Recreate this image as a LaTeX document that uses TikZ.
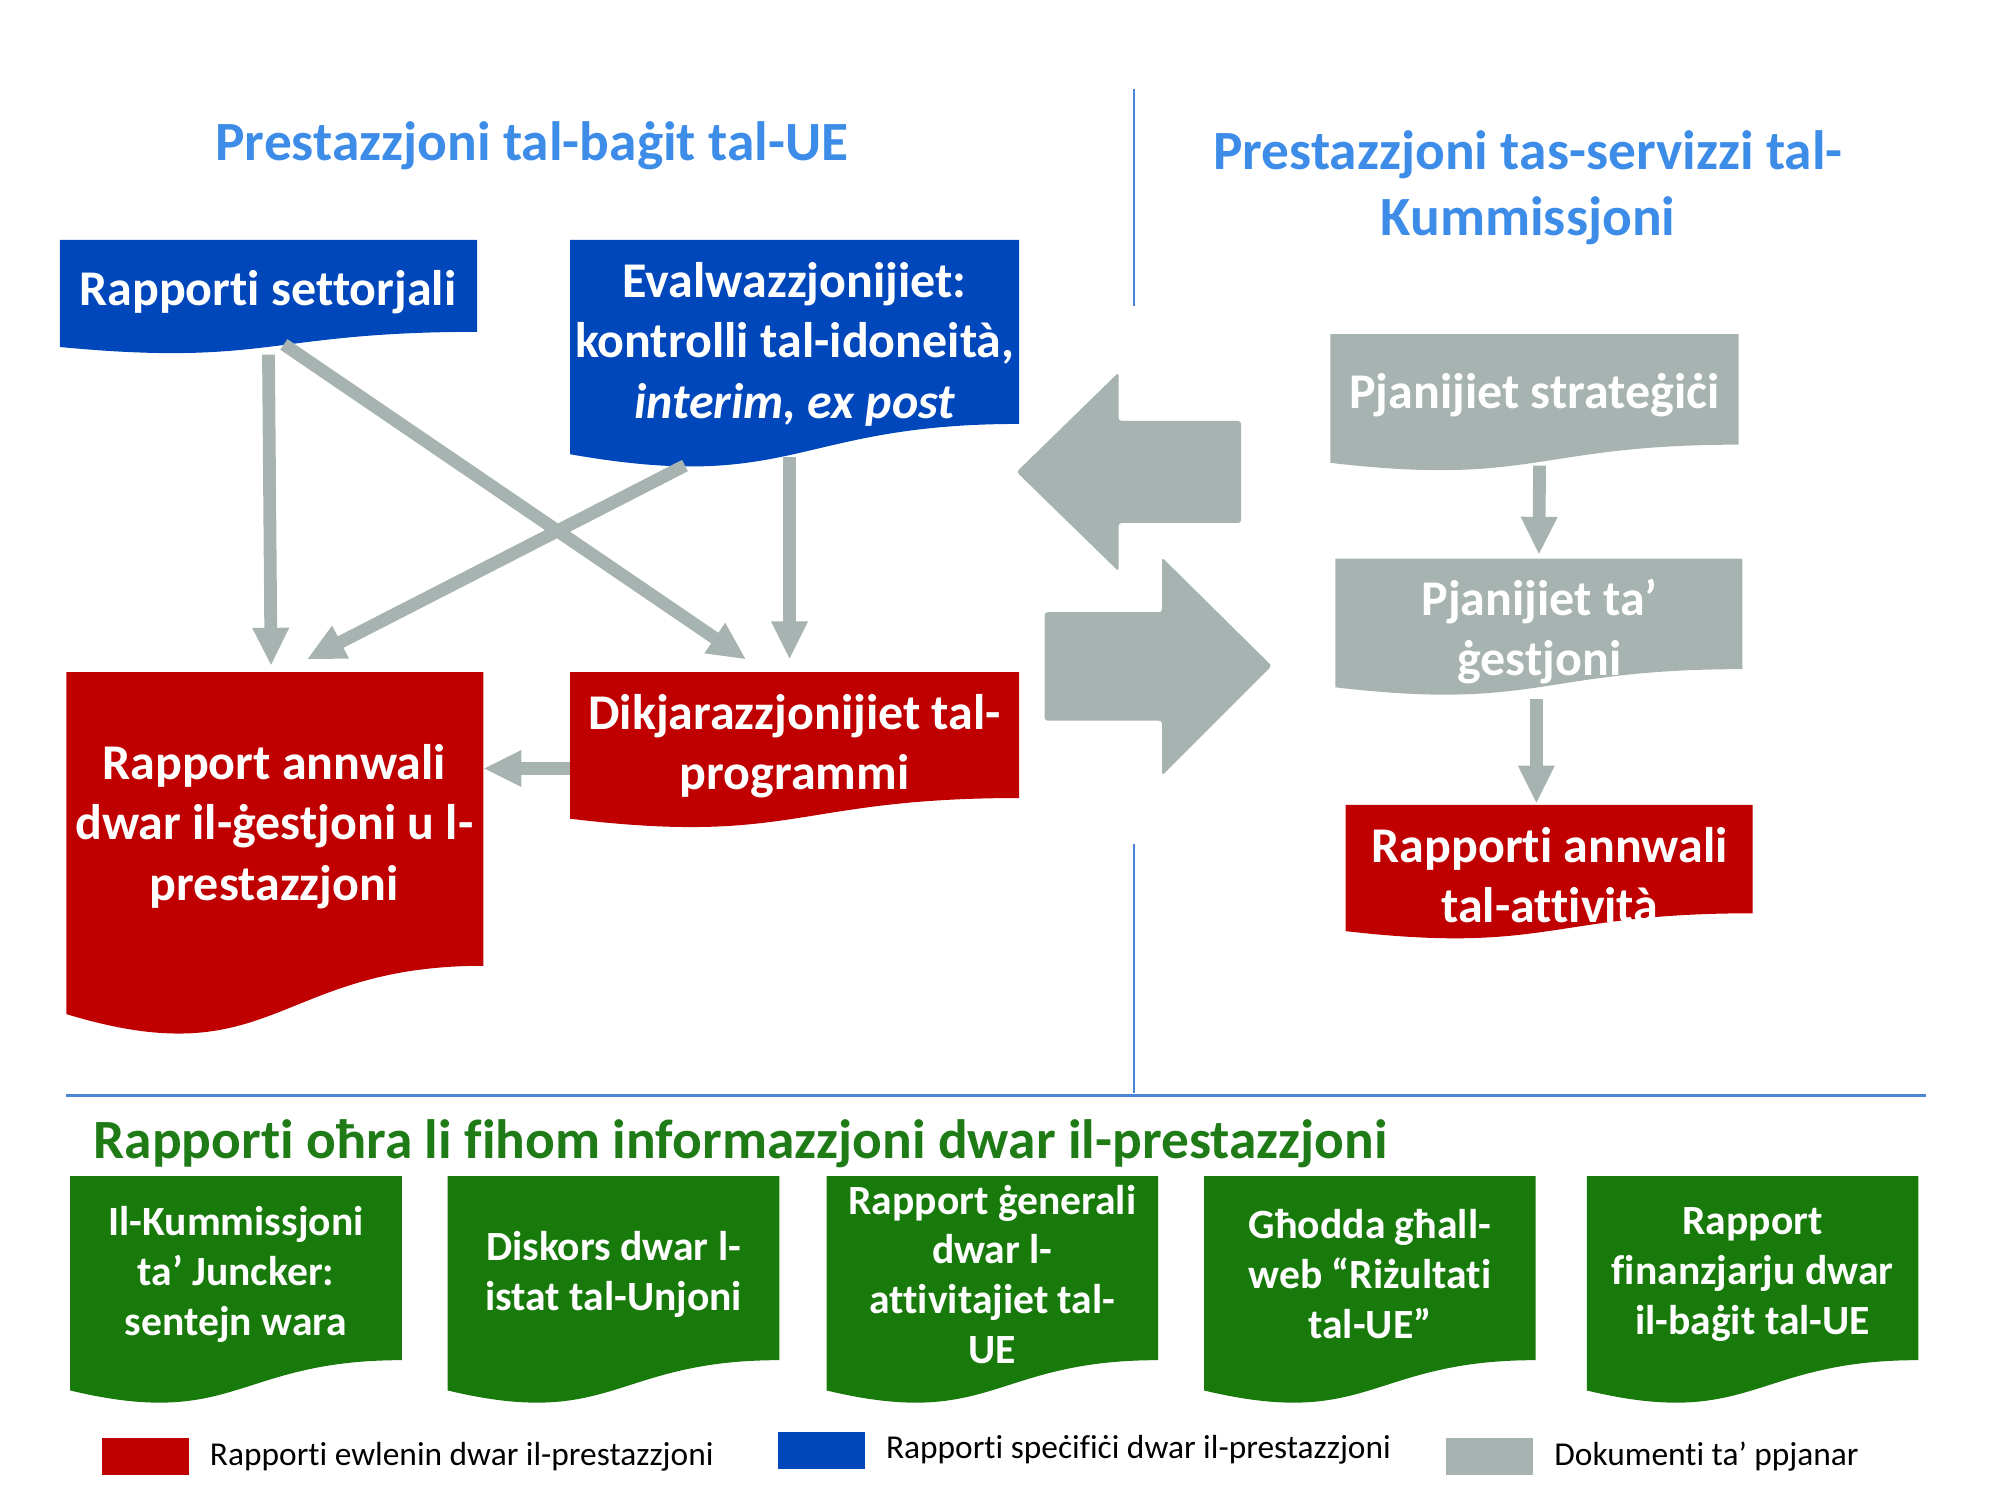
\documentclass[tikz,border=0pt]{standalone}
\usepackage{fontspec}
\setmainfont{Carlito}[Ligatures=NoCommon]
\usetikzlibrary{positioning, arrows.meta, calc}
\definecolor{docBlue}{HTML}{0047BB}
\definecolor{docRed}{HTML}{C00000}
\definecolor{docGray}{HTML}{A6B3B1}
\definecolor{docGreen}{HTML}{187A0A}
\definecolor{titleBlue}{HTML}{3D8CE8}
\definecolor{titleGreen}{HTML}{1E7B16}
\definecolor{lineBlue}{HTML}{4A86D8}

% one pixel of the layout grid (1568 x 1176)
\newcommand{\px}{0.6378pt}

\tikzset{
  doc/.style n args={3}{rectangle, inner sep=0pt, outer sep=0pt, anchor=north west,
    minimum width=#2*\px, minimum height=#3*\px,
    path picture={
      \coordinate (pp-n) at (path picture bounding box.north);
      \coordinate (pp-s) at (path picture bounding box.south);
      \coordinate (pp-nw) at (path picture bounding box.north west);
      \coordinate (pp-sw) at (path picture bounding box.south west);
      \coordinate (pp-ne) at (path picture bounding box.north east);
      \coordinate (pp-se) at (path picture bounding box.south east);
      \fill[#1] (pp-nw) -- (pp-ne) -- ($(pp-ne)!0.802!(pp-se)$)
        .. controls ($(pp-n)!0.802!(pp-s)$) and ($(pp-n)!1.107!(pp-s)$)
        .. ($(pp-nw)!0.934!(pp-sw)$) -- cycle;
    }},
  doctext/.style={text=white, font=\bfseries\fontsize{25}{30.3}\selectfont, align=center, inner sep=0pt},
  greentext/.style={text=white, font=\bfseries\fontsize{20.8}{24.9}\selectfont, align=center, inner sep=0pt},
  heading/.style={text=titleBlue, font=\bfseries\fontsize{27.7}{33.2}\selectfont, align=center, inner sep=0pt},
  flow/.style={draw=docGray, line width=6.4pt, -{Triangle[width=17pt,length=19pt]}},
  bigarrow/.style={fill=docGray, rounded corners=1.5pt},
  divider/.style={draw=lineBlue, line width=1.2pt},
  legsq/.style={rectangle, inner sep=0pt, minimum width=68*\px, minimum height=29*\px},
  legtext/.style={anchor=west, inner sep=0pt, font=\fontsize{16.7}{20}\selectfont},
}

\begin{document}
\begin{tikzpicture}[x=\px, y=-\px]
  \useasboundingbox (0,0) rectangle (1568,1176);

  % Titoli
  \node[heading] (budget-t) at (417,114) {Prestazzjoni tal-baġit tal-UE};
  \node[heading] (services-t) at (1198,147) {Prestazzjoni tas-servizzi tal-\\Kummissjoni};

  % Linji diviżorji
  \draw[divider] (889,70) -- (889,240);
  \draw[divider] (889,662) -- (889,857);
  \draw[divider] (52,859) -- (1510,859);

  % Dokumenti tal-baġit
  \node[doc={docBlue}{327}{90}] (settor) at (47,188) {};
  \node[doctext] (settor-t) at (210,229) {Rapporti settorjali};
  \node[doc={docBlue}{352}{180}] (evalw) at (447,188) {};
  \node[doctext] (evalw-t) at (623,270) {Evalwazzjonijiet:\\kontrolli tal-idoneità,\\\textit{interim, ex post}};
  \node[doc={docRed}{327}{287}] (annwali) at (52,527) {};
  \node[doctext] (annwali-t) at (215,648) {Rapport annwali\\dwar il-ġestjoni u l-\\prestazzjoni};
  \node[doc={docRed}{352}{123}] (dikjar) at (447,527) {};
  \node[doctext] (dikjar-t) at (623,585) {Dikjarazzjonijiet tal-\\programmi};

  % Dokumenti tas-servizzi
  \node[doc={docGray}{320}{108}] (strat) at (1043,262) {};
  \node[doctext] (strat-t) at (1203,310) {Pjanijiet strateġiċi};
  \node[doc={docGray}{319}{108}] (gest) at (1047,438) {};
  \node[doctext] (gest-t) at (1207,495) {Pjanijiet ta’\\ġestjoni};
  \node[doc={docRed}{319}{106}] (aar) at (1055,631) {};
  \node[doctext] (aar-t) at (1215,686) {Rapporti annwali\\tal-attività};

  % Vleġeġ
  \draw[flow] (settor.south) -- ($(annwali.north)+(-3,-5)$);
  \draw[flow] ($(settor.south)+(12,-8)$) -- ($(dikjar.north west)+(138,-10)$);
  \draw[flow] ($(evalw.south west)+(90,-3)$) -- ($(annwali.north)+(25,-10)$);
  \draw[flow] ($(evalw.south)+(-4,-10)$) -- ($(dikjar.north)+(-4,-10)$);
  \draw[flow] ($(dikjar.west)+(0,14)$) coordinate (dikjar-w) -- (dikjar-w -| annwali.east);
  \draw[flow] ($(strat.south)+(4,-5)$) -- ($(gest.north)+(0,-3)$);
  \draw[flow] ($(gest.south)+(-2,2)$) coordinate (gest-s) -- ($(gest-s |- aar.north)+(0,-1)$);

  % Vleġeġ kbar
  \fill[bigarrow] (797,370) -- (877,292) -- (877,330) -- (973,330) -- (973,410)
    -- (877,410) -- (877,448) -- cycle;
  \fill[bigarrow] (997,522) -- (911,437) -- (911,480) -- (819,480) -- (819,565)
    -- (911,565) -- (911,608) -- cycle;

  % Rapporti oħra
  \node[heading, text=titleGreen, anchor=west] (other-t) at (73,897)
    {Rapporti oħra li fihom informazzjoni dwar il-prestazzjoni};
  \foreach \i/\x in {1/55, 2/351, 3/648, 4/944, 5/1244}
    \node[doc={docGreen}{260}{180}] (other\i) at (\x,922) {};
  \node[greentext] (other1-t) at ($(other1.north)+(0,77)$) {Il-Kummissjoni\\ta’ Juncker:\\sentejn wara};
  \node[greentext] (other2-t) at ($(other2.north)+(0,77)$) {Diskors dwar l-\\istat tal-Unjoni};
  \node[greentext] (other3-t) at ($(other3.north)+(0,77)$) {Rapport ġenerali\\dwar l-\\attivitajiet tal-\\UE};
  \node[greentext] (other4-t) at ($(other4.north)+(0,77)$) {Għodda għall-\\web “Riżultati\\tal-UE”};
  \node[greentext] (other5-t) at ($(other5.north)+(0,77)$) {Rapport\\finanzjarju dwar\\il-baġit tal-UE};

  % Leġenda
  \node[legsq, fill=docRed] (leg-red) at (114,1142) {};
  \node[legtext, right=10.2pt of leg-red] (leg-red-t) {Rapporti ewlenin dwar il-prestazzjoni};
  \node[legsq, fill=docBlue] (leg-blue) at (644,1137) {};
  \node[legtext, right=10.2pt of leg-blue] (leg-blue-t) {Rapporti speċifiċi dwar il-prestazzjoni};
  \node[legsq, fill=docGray] (leg-gray) at (1168,1142) {};
  \node[legtext, right=10.2pt of leg-gray] (leg-gray-t) {Dokumenti ta’ ppjanar};
\end{tikzpicture}
\end{document}
